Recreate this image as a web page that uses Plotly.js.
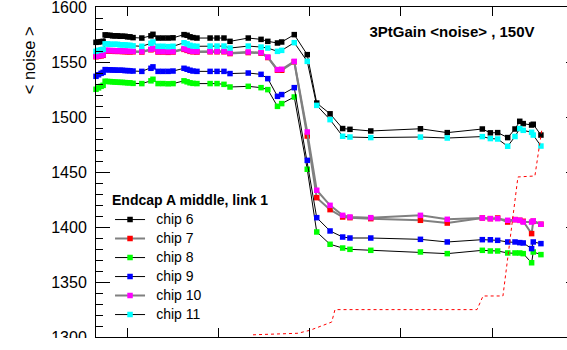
<!DOCTYPE html>
<html>
<head>
<meta charset="utf-8">
<script src="https://cdn.plot.ly/plotly-3.0.1.min.js"></script>
<style>
html,body{margin:0;padding:0;background:#fff;overflow:hidden;}
#chart{width:580px;height:350px;}
</style>
</head>
<body>
<div id="chart"></div>
<script>
// time axis (arbitrary units, ticks every 50, labels not shown in the picture)
const xPos = [33.0, 34.4, 35.8, 36.9, 38.0, 39.3, 40.7, 42.1, 43.4, 44.8, 46.2, 47.5, 48.9, 50.3, 51.6,
  53.3, 58.1, 63.1, 64.2, 67.0, 69.7, 72.5, 75.2, 81.2, 82.9, 84.5, 86.1, 88.3, 95.5, 99.3, 103.1, 106.4,
  116.4, 123.4, 127.1, 132.4, 134.7, 141.6, 148.7, 153.9, 161.2, 168.1, 172.1, 183.5, 210.7, 225.4,
  244.6, 249.0, 253.0, 258.5, 262.5, 265.1, 267.0, 271.6, 272.5, 276.7];

const chip6 = [1567.9, 1568.2, 1568.5, 1568.8, 1574.7, 1574.3, 1574.3, 1573.8, 1573.8, 1573.8, 1573.4, 1573.4, 1573.4, 1572.9, 1572.9,
  1572.2, 1571.8, 1573.8, 1575.2, 1571.8, 1571.8, 1571.8, 1572.0, 1574.9, 1574.3, 1572.9, 1572.2, 1571.8, 1571.8, 1571.8, 1571.8, 1568.8,
  1571.8, 1570.6, 1568.8, 1567.3, 1568.2, 1574.9, 1556.7, 1512.7, 1502.9, 1489.5, 1488.8, 1487.3, 1489.3, 1485.8,
  1489.1, 1485.6, 1485.8, 1481.3, 1489.1, 1496.1, 1494.0, 1492.7, 1493.4, 1483.6];

const chip7 = [1554.8, 1555.2, 1555.6, 1556.1, 1560.2, 1560.2, 1560.0, 1560.0, 1559.7, 1559.7, 1559.7, 1559.5, 1559.5, 1559.3, 1559.3,
  1559.3, 1559.1, 1561.1, 1562.0, 1559.1, 1559.1, 1558.8, 1559.1, 1561.5, 1560.6, 1559.7, 1559.3, 1559.1, 1559.3, 1559.3, 1559.3, 1557.7,
  1558.6, 1558.1, 1554.1, 1542.5, 1542.5, 1550.2, 1482.7, 1426.7, 1415.8, 1409.1, 1408.5, 1407.6, 1406.1, 1403.6,
  1408.2, 1407.6, 1408.2, 1404.5, 1406.7, 1406.1, 1405.2, 1394.0, 1405.2, 1402.5];

const chip8 = [1525.2, 1526.5, 1527.9, 1528.8, 1532.5, 1532.3, 1532.2, 1532.0, 1531.8, 1531.7, 1531.5, 1531.5, 1531.3, 1531.1, 1531.1,
  1530.6, 1530.4, 1532.9, 1534.3, 1530.4, 1530.4, 1530.2, 1530.4, 1532.9, 1532.0, 1531.1, 1530.6, 1530.4, 1530.4, 1530.4, 1529.7, 1527.3,
  1527.9, 1526.7, 1524.9, 1509.7, 1512.2, 1518.2, 1452.5, 1395.5, 1384.3, 1380.9, 1379.7, 1378.8, 1377.3, 1375.8,
  1378.8, 1378.2, 1378.2, 1376.4, 1376.4, 1376.4, 1375.8, 1367.5, 1377.3, 1374.9];

const chip9 = [1537.0, 1538.4, 1539.7, 1540.6, 1543.1, 1542.9, 1542.9, 1542.7, 1542.7, 1542.5, 1542.5, 1542.5, 1542.2, 1542.2, 1542.0,
  1541.8, 1541.5, 1544.3, 1545.6, 1541.5, 1541.5, 1541.5, 1541.8, 1544.3, 1543.4, 1542.5, 1541.8, 1541.5, 1541.5, 1541.5, 1541.5, 1539.5,
  1540.0, 1538.8, 1534.9, 1518.8, 1520.4, 1526.7, 1460.6, 1408.5, 1396.4, 1390.9, 1390.0, 1390.0, 1388.8, 1386.4,
  1388.5, 1388.4, 1387.9, 1386.4, 1386.4, 1385.8, 1385.5, 1380.4, 1386.4, 1384.9];

const chip10 = [1555.2, 1555.6, 1556.1, 1556.5, 1560.6, 1560.6, 1560.4, 1560.4, 1560.2, 1560.2, 1560.2, 1560.0, 1560.0, 1559.7, 1559.7,
  1559.7, 1559.5, 1561.5, 1562.5, 1559.5, 1559.5, 1559.3, 1559.5, 1562.0, 1561.1, 1560.2, 1559.7, 1559.5, 1559.7, 1559.7, 1559.7, 1558.2,
  1559.1, 1558.5, 1554.5, 1543.1, 1543.4, 1550.6, 1486.4, 1433.4, 1419.7, 1410.6, 1409.1, 1408.5, 1410.6, 1407.0,
  1408.2, 1407.6, 1407.6, 1406.1, 1406.7, 1406.1, 1404.5, 1404.5, 1405.5, 1402.5];

const chip11 = [1559.7, 1560.6, 1561.1, 1561.5, 1566.5, 1566.5, 1566.1, 1566.1, 1566.1, 1566.1, 1565.6, 1565.6, 1565.6, 1565.2, 1565.2,
  1564.7, 1564.3, 1567.0, 1568.2, 1564.3, 1564.3, 1564.0, 1564.3, 1567.5, 1566.5, 1565.2, 1564.5, 1564.3, 1564.5, 1564.5, 1564.5, 1562.7,
  1564.5, 1563.6, 1562.7, 1559.7, 1560.6, 1567.6, 1550.6, 1510.6, 1497.6, 1482.5, 1481.8, 1481.3, 1481.8, 1480.9,
  1482.2, 1480.4, 1480.0, 1473.4, 1482.3, 1489.5, 1487.9, 1486.1, 1483.6, 1473.6];

// red dotted reference curve
const dashX = [119.0, 143.6, 150.2, 162.1, 163.9, 241.7, 245.0, 255.9, 264.1, 273.4, 277.3];
const dashY = [1302.0, 1303.4, 1306.1, 1313.6, 1324.9, 1324.9, 1337.3, 1337.3, 1445.5, 1446.4, 1489.7];

const names = ['chip 6', 'chip 7', 'chip 8', 'chip 9', 'chip 10', 'chip 11'];
const series = [chip6, chip7, chip8, chip9, chip10, chip11];
const markerColors = ['#000000', '#ff0000', '#00ff00', '#0000ff', '#ff00ff', '#00ffff'];
const lineColors = ['#000000', '#808080', '#000000', '#000000', '#808080', '#000000'];
const lineWidths = [1, 2, 1, 1, 2, 1];

const FONT = '"Liberation Sans", Arial, Helvetica, sans-serif';

const traces = series.map((s, i) => ({
  type: 'scatter', mode: 'lines+markers',
  name: '&nbsp;&nbsp;<span style="font-size:14px">' + names[i] + '</span>',
  x: xPos, y: s,
  line: {color: lineColors[i], width: lineWidths[i]},
  marker: {symbol: 'square', size: 5.5, color: markerColors[i], line: {width: 0}},
  cliponaxis: false
}));
traces.push({
  type: 'scatter', mode: 'lines', x: dashX, y: dashY, showlegend: false,
  line: {color: '#ff0000', width: 1, dash: '3px,3px'}, cliponaxis: false
});

const layout = {
  width: 580, height: 350,
  margin: {l: 96, r: 0, t: 6.7, b: 13.3},
  paper_bgcolor: '#ffffff', plot_bgcolor: '#ffffff',
  font: {family: FONT, color: '#000000'},
  showlegend: true,
  title: {text: '<b>3PtGain &lt;noise&gt; , 150V</b>', font: {family: FONT, size: 15, color: '#000'},
    xref: 'container', yref: 'container', x: 452/580, y: 1 - 32/350, xanchor: 'center', yanchor: 'middle'},
  legend: {
    title: {text: '<b>Endcap A middle, link 1</b>', font: {family: FONT, size: 14}},
    font: {family: FONT, size: 11, color: '#000'},
    x: 0.029, y: 0.455, xanchor: 'left', yanchor: 'top',
    bgcolor: 'rgba(0,0,0,0)', borderwidth: 0, itemwidth: 30, tracegroupgap: 0
  },
  xaxis: {
    range: [33.0, 298.1], tick0: 0, dtick: 50, ticks: 'inside', ticklen: 9, tickwidth: 1, tickcolor: '#000',
    showticklabels: false, showline: true, linecolor: '#000', linewidth: 1, mirror: 'ticks',
    showgrid: false, zeroline: false
  },
  yaxis: {
    range: [1300, 1600.02], tickvals: [1300, 1350, 1400, 1450, 1500, 1550, 1600],
    ticks: 'inside', ticklen: 14, tickwidth: 1, tickcolor: '#000',
    minor: {dtick: 10, tick0: 1300, ticks: 'inside', ticklen: 7, tickcolor: '#000', tickwidth: 1, showgrid: false},
    tickfont: {family: FONT, size: 16, color: '#000'}, ticklabelstandoff: 5, ticklabeloverflow: 'allow',
    showline: true, linecolor: '#000', linewidth: 1, mirror: 'ticks',
    showgrid: false, zeroline: false
  },
  annotations: [{
    text: '&lt; noise &gt;', textangle: -90, showarrow: false,
    xref: 'paper', yref: 'paper', x: (29 - 96) / 484, y: (336.7 - 60) / 330,
    xanchor: 'center', yanchor: 'middle', font: {family: FONT, size: 16.5, color: '#000'}
  }],
  shapes: [{
    type: 'rect', xref: 'paper', yref: 'paper', layer: 'above',
    x0: -0.25, x1: 1.0, y0: -0.2, y1: -0.9 / 330,
    fillcolor: '#ffffff', line: {width: 0}
  }]
};

Plotly.newPlot('chart', traces, layout, {displayModeBar: false, staticPlot: true});
</script>
</body>
</html>
